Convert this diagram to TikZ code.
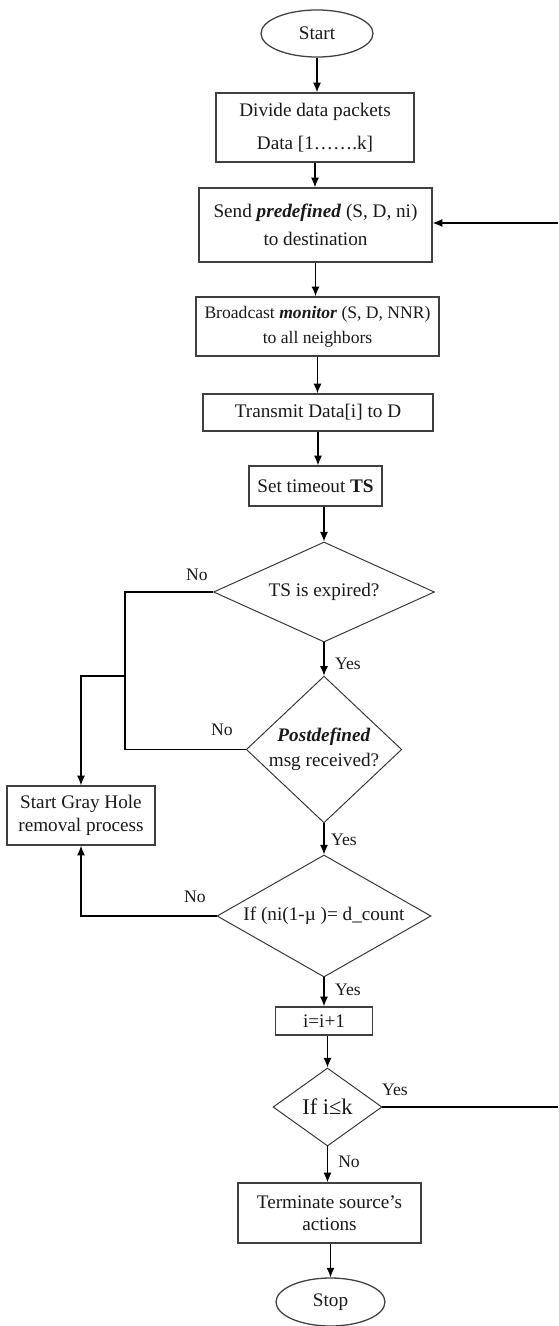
\documentclass[tikz,border=0pt]{standalone}
\usepackage{fontspec}
\setmainfont{Liberation Serif}
\usetikzlibrary{arrows.meta,shapes.geometric}

\begin{document}
\begin{tikzpicture}[x=0.625pt, y=-0.625pt,
	every node/.style={font=\fontsize{12}{14.4}\selectfont, text=black!90},
	>={Latex[length=6pt,width=5pt]},
	proc/.style={rectangle, draw=black!75, line width=0.9pt, align=center, inner sep=0pt},
	term/.style={ellipse, draw=black!75, line width=0.8pt, inner sep=0pt},
	cond/.style={diamond, draw=black!80, line width=0.6pt, align=center, inner sep=0pt},
	lbl/.style={font=\fontsize{11}{13}\selectfont},
	flow/.style={draw=black, line width=0.75pt}]
	\useasboundingbox (0,0) rectangle (558,1326);
	% main column
	\node[term, minimum width=70pt, minimum height=29.4pt] (start) at (317,33.5) {Start};
	\node[proc, minimum width=123.75pt, minimum height=43.1pt] (divide) at (315,127.5) {Divide data packets\\[6pt]Data [1…….k]};
	\node[proc, minimum width=145.6pt, minimum height=46.25pt] (send) at (315.5,225) {Send \textbf{\textit{predefined}} (S, D, ni)\\[3pt]to destination};
	\node[proc, minimum width=151.9pt, minimum height=36.9pt, font=\fontsize{11}{15.6}\selectfont] (bcast) at (317.5,326.5) {Broadcast \textbf{\textit{monitor}} (S, D, NNR)\\to all neighbors};
	\node[proc, minimum width=143.75pt, minimum height=23.1pt] (transmit) at (318,412.5) {Transmit Data[i] to D};
	\node[proc, minimum width=83.1pt, minimum height=25pt] (settime) at (315.5,486) {Set timeout \textbf{TS}};
	\node[cond, minimum width=138.1pt, minimum height=62.5pt, shape aspect=2.21] (d1) at (324,592) {TS is expired?};
	\node[cond, minimum width=96.25pt, minimum height=90.6pt, shape aspect=1.06] (d2) at (324,749.5) {\textbf{\textit{Postdefined}}\\[1.2pt]msg received?};
	\node[cond, minimum width=133.75pt, minimum height=76.25pt, shape aspect=1.75] (d3) at (324,916) {If (ni(1-µ )= d\_count};
	\node[proc, minimum width=60.6pt, minimum height=17.5pt] (ibox) at (324,1021) {i=i+1};
	\node[cond, minimum width=68.1pt, minimum height=48.75pt, shape aspect=1.4, font=\fontsize{14}{16}\selectfont] (d4) at (327.5,1107) {If i≤k};
	\node[proc, minimum width=114.4pt, minimum height=37.5pt, font=\fontsize{12}{13.75}\selectfont] (term) at (329.5,1213) {Terminate source’s\\actions};
	\node[term, minimum width=68.1pt, minimum height=30pt] (stop) at (330.5,1302) {Stop};
	% removal box
	\node[proc, minimum width=92.5pt, minimum height=36.9pt] (gray) at (81,815.5) {Start Gray Hole\\removal process};
	% branch labels
	\node[lbl] (no1) at (197,575) {No};
	\node[lbl] (no2) at (222,730) {No};
	\node[lbl] (no3) at (195,897) {No};
	\node[lbl] (no4) at (349,1162) {No};
	\node[lbl] (yes1) at (348,664) {Yes};
	\node[lbl] (yes2) at (344,840) {Yes};
	\node[lbl] (yes3) at (348,990) {Yes};
	\node[lbl] (yes4) at (395,1090) {Yes};
	% connectors
	\draw[flow,->] (start) -- (start |- divide.north);
	\draw[flow,->] (divide) -- (divide |- send.north);
	\draw[flow,->] (send) -- (send |- bcast.north);
	\draw[flow,->] (bcast) -- (bcast |- transmit.north);
	\draw[flow,->] (transmit) -- (transmit |- settime.north);
	\draw[flow,->] (d1.north |- settime.south) -- (d1.north);
	\draw[flow,->] (d1) -- (d2);
	\draw[flow,->] (d2) -- (d3);
	\draw[flow,->] (d3) -- (ibox);
	\draw[flow,->] (d4.north |- ibox.south) -- (d4.north);
	\draw[flow,->] (d4) -- (d4 |- term.north);
	\draw[flow,->] (stop.north |- term.south) -- (stop.north);
	% no branches
	\coordinate (nobus) at (125,676);
	\draw[flow] (d1.west) -| (nobus |- d2.west) -- (d2.west);
	\draw[flow,->] (nobus) -| (gray.north);
	\draw[flow,->] (d3.west) -| (gray.south);
	% loop back
	\coordinate (backtop) at (558,223);
	\coordinate (backbot) at (558,1107);
	\draw[flow,->] (backtop) -- (backtop -| send.east);
	\draw[flow] (d4.east) -- (backbot);
\end{tikzpicture}
\end{document}
